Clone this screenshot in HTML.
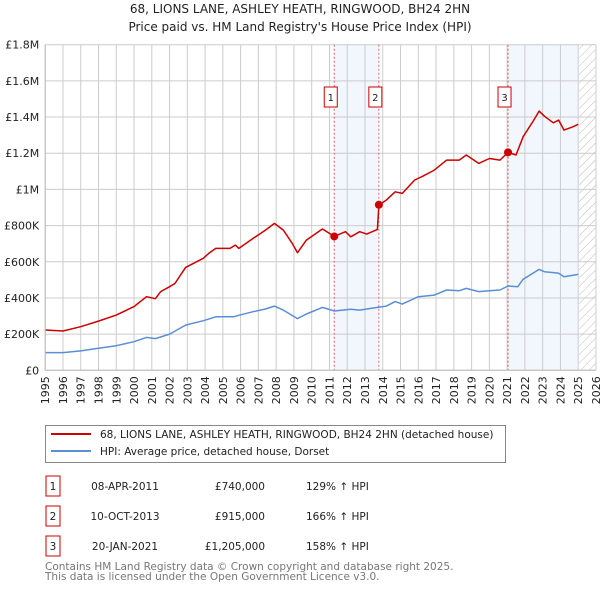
<!DOCTYPE html>
<html><head><meta charset="utf-8"><style>
body{margin:0;background:#fff;font-family:"Liberation Sans","DejaVu Sans",sans-serif}
svg{display:block}
</style></head><body>
<svg width="600" height="590" xmlns="http://www.w3.org/2000/svg" font-family="DejaVu Sans, Liberation Sans, sans-serif">
<text x="300" y="13" text-anchor="middle" font-size="12" fill="#222">68, LIONS LANE, ASHLEY HEATH, RINGWOOD, BH24 2HN</text>
<text x="300" y="31" text-anchor="middle" font-size="12" fill="#222">Price paid vs. HM Land Registry's House Price Index (HPI)</text>
<g id="plot"></g>
<g>
<rect x="45.5" y="425.5" width="460" height="37" fill="#fff" stroke="#888"/>
<line x1="51" y1="434" x2="91" y2="434" stroke="#cc0000" stroke-width="2"/>
<text x="100" y="438" font-size="10.5" fill="#222">68, LIONS LANE, ASHLEY HEATH, RINGWOOD, BH24 2HN (detached house)</text>
<line x1="51" y1="451" x2="91" y2="451" stroke="#5b8fd4" stroke-width="2"/>
<text x="100" y="455" font-size="10.5" fill="#222">HPI: Average price, detached house, Dorset</text>
</g>
<g id="table" font-size="10.5" fill="#222"></g>
<text x="45" y="570" font-size="10.5" fill="#777">Contains HM Land Registry data © Crown copyright and database right 2025.</text>
<text x="45" y="580" font-size="10.5" fill="#777">This data is licensed under the Open Government Licence v3.0.</text>
</svg>
<script>
const redYears=[1995,1996,1997,1998,1999,2000,2000.7,2001.2,2001.5,2002,2002.3,2002.9,2003.9,2004.2,2004.6,2005.4,2005.7,2005.9,2006.7,2007.4,2007.9,2008.4,2008.9,2009.2,2009.7,2010.6,2011.27,2011.9,2012.2,2012.7,2013.1,2013.7,2013.78,2014.2,2014.7,2015.1,2015.8,2016.2,2016.9,2017.6,2018.3,2018.7,2019.4,2020,2020.6,2021.05,2021.5,2021.9,2022.5,2022.8,2023.1,2023.6,2023.9,2024.2,2024.7,2025.0];
const redValues=[223,217,241,272,305,352,407,396,435,462,480,569,619,646,674,674,692,674,729,775,812,775,702,650,720,781,740,766,738,766,753,779,915,941,987,978,1052,1070,1107,1162,1162,1190,1144,1171,1162,1205,1190,1291,1383,1433,1405,1368,1383,1328,1346,1360];
const hpiYears=[1995,1996,1997,1998,1999,2000,2000.7,2001.2,2002,2002.9,2003.9,2004.6,2005.6,2005.9,2006.7,2007.4,2007.9,2008.4,2009.2,2009.7,2010.6,2011.27,2012.2,2012.7,2013.7,2014.2,2014.7,2015.1,2016.0,2016.9,2017.6,2018.3,2018.7,2019.4,2020,2020.6,2021.05,2021.6,2021.9,2022.8,2023.1,2023.6,2023.9,2024.2,2025.0];
const hpiValues=[98,98,107,122,136,158,182,175,200,250,274,296,296,304,324,339,355,333,286,311,348,328,337,333,348,355,380,366,407,416,444,440,453,435,440,444,466,462,503,558,545,540,536,517,530];
const saleLabels=["1","2","3"];
const saleYears=[2011.27,2013.78,2021.05];
const saleValues=[740,915,1205];
const saleDates=["08-APR-2011","10-OCT-2013","20-JAN-2021"];
const salePrices=["£740,000","£915,000","£1,205,000"];
const salePct=["129% ↑ HPI","166% ↑ HPI","158% ↑ HPI"];
const yTicks=[0,200,400,600,800,1000,1200,1400,1600,1800];
const yTickLabels=["£0","£200K","£400K","£600K","£800K","£1M","£1.2M","£1.4M","£1.6M","£1.8M"];
const xTicks=[];for(let y=1995;y<=2026;y++)xTicks.push(y);

const NS="http://www.w3.org/2000/svg";
const X0=45.2,X1=578.2,Y0=370.3,Y1=44.7,PR=596;
const xs=y=>X0+(y-1995)*(X1-X0)/30;
const ys=v=>Y0-(v/1800)*(Y0-Y1);
const plot=document.getElementById('plot');
function mk(tag,attrs,parent){const e=document.createElementNS(NS,tag);for(const k in attrs)e.setAttribute(k,attrs[k]);(parent||plot).appendChild(e);return e;}
[[saleYears[0],saleYears[1]],[saleYears[2],2025.0]].forEach((b,i)=>{
 const r=mk('rect',{x:xs(b[0]),y:Y1,width:xs(b[1])-xs(b[0]),height:Y0-Y1,fill:'#eef3fc',opacity:0.75});
 
 
});
const defs=mk('defs',{});
const pat=mk('pattern',{id:'hatch',width:6,height:6,patternUnits:'userSpaceOnUse',patternTransform:'rotate(45)'},defs);
mk('line',{x1:0,y1:0,x2:0,y2:6,stroke:'#bbb','stroke-width':1},pat);
const h=mk('rect',{x:xs(2025.05),y:Y1,width:PR-xs(2025.05),height:Y0-Y1,fill:'url(#hatch)'});


xTicks.forEach(y=>{
 const l=mk('line',{x1:xs(y),x2:xs(y),y1:Y1,y2:Y0,stroke:'#ccc','stroke-width':1});
 
 
 const t=mk('text',{x:0,y:0,transform:`translate(${xs(y)+4},${Y0+6}) rotate(-90)`,'text-anchor':'end','font-size':11,fill:'#222'});
 t.textContent=y;
 
 
});
yTicks.forEach((v,i)=>{
 const l=mk('line',{x1:X0,x2:PR,y1:ys(v),y2:ys(v),stroke:'#ccc','stroke-width':1});
 
 
 const t=mk('text',{x:X0-6,y:ys(v)+4,'text-anchor':'end','font-size':11,fill:'#222'});
 t.textContent=yTickLabels[i];
 
 
});
saleYears.forEach((y,i)=>{
 const l=mk('line',{x1:xs(y),x2:xs(y),y1:Y1,y2:Y0,stroke:'#e06060','stroke-width':1,'stroke-dasharray':'2,2'});
 
 
 const bx=xs(y)-3.5;
 const r=mk('rect',{x:bx-6.5,y:87,width:13,height:20,fill:'#fff',stroke:'#cc0000'});
 
 
 const t=mk('text',{x:bx,y:101,'text-anchor':'middle','font-size':10,fill:'#222'});
 t.textContent=saleLabels[i];
 
 
});
function line(xsA,vs,color,name){
 const d=xsA.map((y,i)=>(i?'L':'M')+xs(y).toFixed(1)+','+ys(vs[i]).toFixed(1)).join('');
 const p=mk('path',{d:d,fill:'none',stroke:color,'stroke-width':1.5,'stroke-linejoin':'round'});
 
 
}
line(hpiYears,hpiValues,'#5b8fd4','hpi-line');
line(redYears,redValues,'#cc0000','property-price-line');
saleYears.forEach((y,i)=>{
 const c=mk('circle',{cx:xs(y),cy:ys(saleValues[i]),r:4,fill:'#cc0000'});
 
 
});
mk('line',{x1:X0,x2:X0,y1:Y1,y2:Y0,stroke:'#bbb'});
mk('line',{x1:X0,x2:PR,y1:Y0,y2:Y0,stroke:'#bbb'});
const tb=document.getElementById('table');
saleLabels.forEach((s,i)=>{
 const cy=486+i*30;
 const r=mk('rect',{x:46,y:cy-10,width:14,height:20,fill:'#fff',stroke:'#cc0000'},tb);
 
 
 const vals=[[53,s,'middle'],[125,saleDates[i],'middle'],[265,salePrices[i],'end'],[306,salePct[i],'start']];
 vals.forEach((v,j)=>{
  const t=mk('text',{x:v[0],y:cy+4,'text-anchor':v[2],'font-size':10.5,fill:'#222'},tb);
  t.textContent=v[1];
  
  
 });
});
</script>
</body></html>
